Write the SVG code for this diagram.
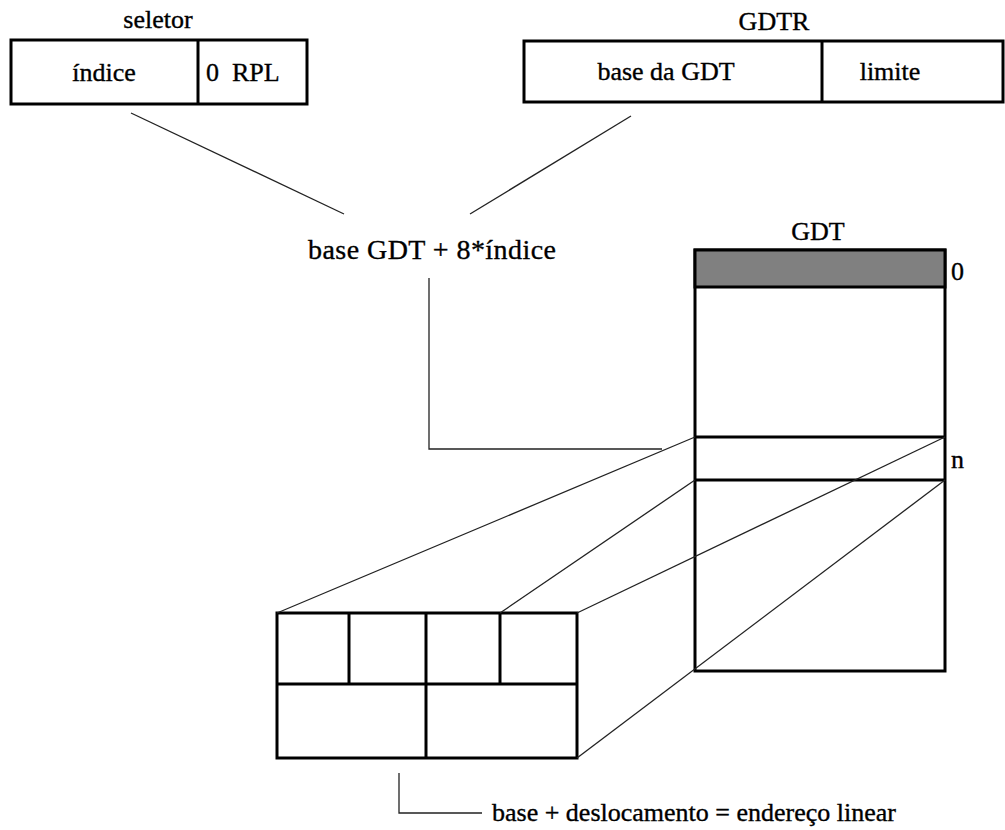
<svg xmlns="http://www.w3.org/2000/svg" width="1005" height="830" viewBox="0 0 1005 830">
  <style>
    .box { fill: #ffffff; stroke: #000000; stroke-width: 3; }
    .div { fill: none; stroke: #000000; stroke-width: 3; }
    .shade { fill: #808080; stroke: #000000; stroke-width: 3; }
    .link { fill: none; stroke: #222222; stroke-width: 1.3; }
    text { font-family: "Liberation Serif", "Times New Roman", serif; font-size: 26px; fill: #000000; stroke: #000000; stroke-width: 0.35; }
    .mid { text-anchor: middle; }
    .big { font-size: 28px; }
  </style>
  <rect width="1005" height="830" fill="#ffffff"/>

  <!-- segment selector -->
  <g id="seletor">
    <text class="mid" x="158" y="28">seletor</text>
    <rect class="box" x="11" y="40" width="296" height="64"/>
    <line class="div" x1="198" y1="40" x2="198" y2="104"/>
    <text class="mid" x="104" y="81">índice</text>
    <text x="206" y="81" xml:space="preserve">0  RPL</text>
  </g>

  <!-- GDTR register -->
  <g id="gdtr">
    <text class="mid" x="774" y="30">GDTR</text>
    <rect class="box" x="524" y="41" width="479" height="61"/>
    <line class="div" x1="822" y1="41" x2="822" y2="102"/>
    <text class="mid" x="666" y="80">base da GDT</text>
    <text class="mid" x="890" y="80">limite</text>
  </g>

  <!-- address computation -->
  <g id="calculo">
    <text class="mid big" x="432" y="259" textLength="248" lengthAdjust="spacing">base GDT + 8*índice</text>
  </g>

  <!-- descriptor table -->
  <g id="gdt">
    <text class="mid" x="818" y="240">GDT</text>
    <rect class="box" x="695" y="250" width="250" height="421"/>
    <rect class="shade" x="695" y="250" width="250" height="37"/>
    <line class="div" x1="695" y1="437" x2="945" y2="437"/>
    <line class="div" x1="695" y1="480" x2="945" y2="480"/>
    <text x="951" y="280">0</text>
    <text x="951" y="468">n</text>
  </g>

  <!-- expanded descriptor -->
  <g id="descritor">
    <rect class="box" x="277" y="613" width="300" height="145"/>
    <line class="div" x1="277" y1="684" x2="577" y2="684"/>
    <line class="div" x1="349" y1="613" x2="349" y2="684"/>
    <line class="div" x1="426" y1="613" x2="426" y2="758"/>
    <line class="div" x1="500" y1="613" x2="500" y2="684"/>
  </g>

  <!-- linear address -->
  <g id="endereco">
    <text x="492" y="821">base + deslocamento = endereço linear</text>
  </g>

  <!-- connectors (drawn last so the diagonals run across the table) -->
  <g id="connectors">
    <line class="link" x1="131" y1="113" x2="344" y2="214"/>
    <line class="link" x1="631" y1="116" x2="470" y2="214"/>
    <polyline class="link" points="429,278 429,449 662,449"/>
    <line class="link" x1="277" y1="613" x2="695" y2="437"/>
    <line class="link" x1="500" y1="613" x2="695" y2="480"/>
    <line class="link" x1="577" y1="613" x2="945" y2="437"/>
    <line class="link" x1="577" y1="758" x2="945" y2="480"/>
    <polyline class="link" points="399,773 399,813 482,813"/>
  </g>
</svg>
